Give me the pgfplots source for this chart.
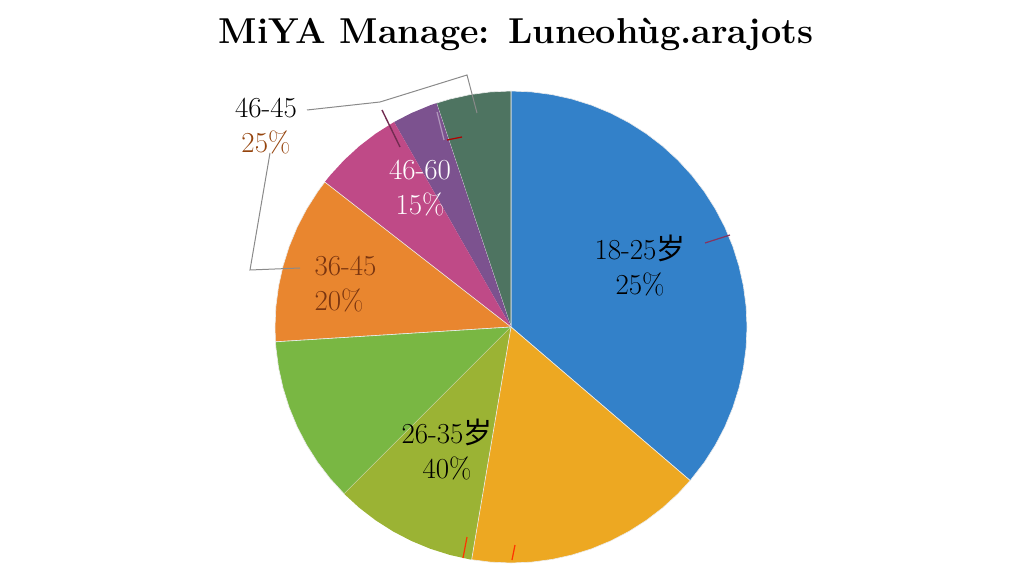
\documentclass[border=0pt]{standalone}
\usepackage{fontspec}
\usepackage{pgfplots}
\pgfplotsset{compat=1.18}
\usepgfplotslibrary{polar}
\newfontfamily\cjk{Noto Sans CJK SC}
\definecolor{cBlue}{HTML}{3381C9}
\definecolor{cGold}{HTML}{EDA822}
\definecolor{cOlive}{HTML}{9BB334}
\definecolor{cGreen}{HTML}{79B743}
\definecolor{cOrange}{HTML}{E9862F}
\definecolor{cMagenta}{HTML}{BF4A87}
\definecolor{cPurple}{HTML}{7C528F}
\definecolor{cGray}{HTML}{4E7461}
\definecolor{cBrown}{HTML}{7A3510}
\definecolor{cLead}{HTML}{8A8A8A}
\begin{document}
\begin{tikzpicture}[x=1pt,y=1pt]
\useasboundingbox (0,0) rectangle (1024,576);
\begin{polaraxis}[at={(511pt,249pt)}, anchor=origin, width=472pt, height=472pt,
  scale only axis, hide axis, xmin=0, xmax=360, ymin=0, ymax=1, clip=false]
% blue 18-25
\addplot[fill=cBlue, draw=white!85!gray, line width=0.6pt] coordinates {(0,0) (-40.6,1) (-35,1) (-30,1) (-25,1) (-20,1) (-15,1) (-10,1) (-5,1) (0,1) (5,1) (10,1) (15,1) (20,1) (25,1) (30,1) (35,1) (40,1) (45,1) (50,1) (55,1) (60,1) (65,1) (70,1) (75,1) (80,1) (85,1) (90,1) (0,0)};
% gray
\addplot[fill=cGray, draw=white!85!gray, line width=0.6pt] coordinates {(0,0) (90,1) (95,1) (100,1) (105,1) (108.4,1) (0,0)};
% purple
\addplot[fill=cPurple, draw=none] coordinates {(0,0) (108.4,1) (110,1) (115,1) (119.7,1) (0,0)};
% magenta
\addplot[fill=cMagenta, draw=none] coordinates {(0,0) (119.7,1) (125,1) (130,1) (135,1) (140,1) (142.1,1) (0,0)};
% orange
\addplot[fill=cOrange, draw=white!85!gray, line width=0.6pt] coordinates {(0,0) (142.1,1) (145,1) (150,1) (155,1) (160,1) (165,1) (170,1) (175,1) (180,1) (183.6,1) (0,0)};
% green
\addplot[fill=cGreen, draw=white!85!gray, line width=0.6pt] coordinates {(0,0) (183.6,1) (185,1) (190,1) (195,1) (200,1) (205,1) (210,1) (215,1) (220,1) (225,1) (0,0)};
% olive
\addplot[fill=cOlive, draw=none] coordinates {(0,0) (225,1) (230,1) (235,1) (240,1) (245,1) (250,1) (255,1) (260,1) (260.4,1) (0,0)};
% gold
\addplot[fill=cGold, draw=white!85!gray, line width=0.6pt] coordinates {(0,0) (260.4,1) (265,1) (270,1) (275,1) (280,1) (285,1) (290,1) (295,1) (300,1) (305,1) (310,1) (315,1) (319.4,1) (0,0)};
\end{polaraxis}
% title
\node[font=\fontsize{36}{44}\selectfont\bfseries] at (516,542) {MiYA Manage: Luneohùg.arajots};
% leader lines
\draw[cLead, line width=1pt] (307,466) -- (380,474) -- (467,501) -- (477,463);
\draw[cLead, line width=1pt] (270,423) -- (250,306) -- (300,308);
\draw[cMagenta!60!black, line width=1.4pt] (382,466) -- (400,429);
\draw[red!70!black, line width=1.2pt] (447,436) -- (462,439);
\draw[cPurple!60!white, line width=1.2pt] (437,464) -- (444,436);
\draw[cMagenta!70!black, line width=1.2pt] (705,333) -- (730,341);
\draw[red!60!orange, line width=1.2pt] (467,39) -- (463,18);
\draw[red!60!orange, line width=1.2pt] (515,31) -- (512,16);
% labels
\begin{scope}[every node/.style={font=\fontsize{29}{35}\selectfont, align=center}]
\node at (640,310.5) {18-25{\cjk 岁}\\25\%};
\node at (447,126) {26-35{\cjk 岁}\\40\%};
\node[text=cBrown, align=left, anchor=west] at (311,292) {36-45\\20\%};
\node[text=white] at (420,387.5) {46-60\\15\%};
\node at (266,449.5) {46-45\\{\color{cBrown!80!orange}25\%}};
\end{scope}
\end{tikzpicture}
\end{document}
